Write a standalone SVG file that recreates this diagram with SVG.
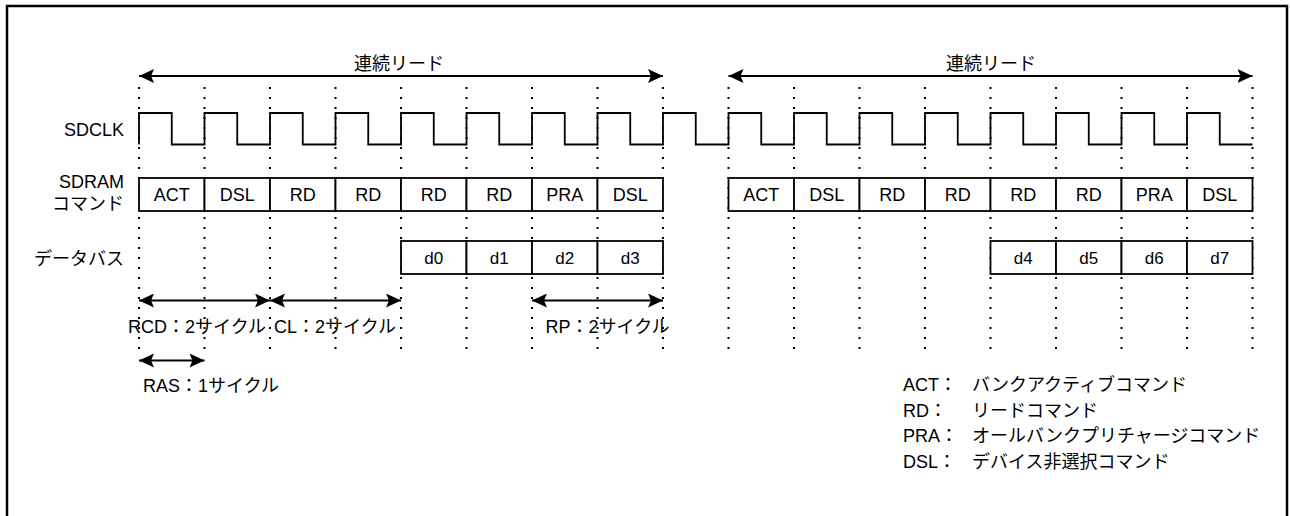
<svg xmlns="http://www.w3.org/2000/svg" width="1290" height="516" viewBox="0 0 1290 516">
<defs>
<marker id="ah" viewBox="0 0 15 14" markerUnits="userSpaceOnUse" markerWidth="15" markerHeight="14" refX="15" refY="7" orient="auto-start-reverse">
<path d="M0,0 L15,7 L0,14 L3,7 z" fill="#000"/>
</marker>
<style>
text{font-family:"Liberation Sans","Noto Sans CJK JP",sans-serif;font-size:18px;fill:#000}
.c{text-anchor:middle}
.e{text-anchor:end}
.d{font-size:17px}
.cell{fill:#fff;stroke:#000;stroke-width:1.8}
.grid{stroke:#000;stroke-width:2;stroke-dasharray:2 8;fill:none}
.sig{stroke:#000;stroke-width:1.8;fill:none}
.arr{stroke:#000;stroke-width:1.8;fill:none;marker-start:url(#ah);marker-end:url(#ah)}
</style>
</defs>
<rect x="0" y="0" width="1290" height="516" fill="#fff"/>
<rect id="frame" x="7" y="6" width="1280" height="530" fill="none" stroke="#000" stroke-width="2.5"/>

<g id="grid" class="grid">
<path d="M139,87V350M204.5,87V350M270,87V350M335.5,87V350M401,87V350M466.5,87V350M532,87V350M597.5,87V350M663,87V350M728.5,87V350M794,87V350M859.5,87V350M925,87V350M990.5,87V350M1056,87V350M1121.5,87V350M1187,87V350M1252.5,87V350"/>
</g>

<g id="labels">
<text id="lbl-sdclk" class="e" x="124" y="135.5">SDCLK</text>
<text id="lbl-cmd" class="e" x="124" y="187.5">SDRAM<tspan x="124" y="210">コマンド</tspan></text>
<text id="lbl-bus" class="e" x="124" y="265">データバス</text>
</g>

<g id="sdclk">
<path class="sig" d="M139,144.5V113H171.75V144.5H204.5V113H237.25V144.5H270V113H302.75V144.5H335.5V113H368.25V144.5H401V113H433.75V144.5H466.5V113H499.25V144.5H532V113H564.75V144.5H597.5V113H630.25V144.5H663V113H695.75V144.5H728.5V113H761.25V144.5H794V113H826.75V144.5H859.5V113H892.25V144.5H925V113H957.75V144.5H990.5V113H1023.25V144.5H1056V113H1088.75V144.5H1121.5V113H1154.25V144.5H1187V113H1219.75V144.5H1252.5"/>
</g>

<g id="cmd1">
<g id="c1"><rect class="cell" x="139" y="178" width="65.5" height="33"/><text class="c" x="171.75" y="201">ACT</text></g>
<g id="c2"><rect class="cell" x="204.5" y="178" width="65.5" height="33"/><text class="c" x="237.25" y="201">DSL</text></g>
<g id="c3"><rect class="cell" x="270" y="178" width="65.5" height="33"/><text class="c" x="302.75" y="201">RD</text></g>
<g id="c4"><rect class="cell" x="335.5" y="178" width="65.5" height="33"/><text class="c" x="368.25" y="201">RD</text></g>
<g id="c5"><rect class="cell" x="401" y="178" width="65.5" height="33"/><text class="c" x="433.75" y="201">RD</text></g>
<g id="c6"><rect class="cell" x="466.5" y="178" width="65.5" height="33"/><text class="c" x="499.25" y="201">RD</text></g>
<g id="c7"><rect class="cell" x="532" y="178" width="65.5" height="33"/><text class="c" x="564.75" y="201">PRA</text></g>
<g id="c8"><rect class="cell" x="597.5" y="178" width="65.5" height="33"/><text class="c" x="630.25" y="201">DSL</text></g>
</g>
<g id="cmd2">
<g id="c9"><rect class="cell" x="728.5" y="178" width="65.5" height="33"/><text class="c" x="761.25" y="201">ACT</text></g>
<g id="c10"><rect class="cell" x="794" y="178" width="65.5" height="33"/><text class="c" x="826.75" y="201">DSL</text></g>
<g id="c11"><rect class="cell" x="859.5" y="178" width="65.5" height="33"/><text class="c" x="892.25" y="201">RD</text></g>
<g id="c12"><rect class="cell" x="925" y="178" width="65.5" height="33"/><text class="c" x="957.75" y="201">RD</text></g>
<g id="c13"><rect class="cell" x="990.5" y="178" width="65.5" height="33"/><text class="c" x="1023.25" y="201">RD</text></g>
<g id="c14"><rect class="cell" x="1056" y="178" width="65.5" height="33"/><text class="c" x="1088.75" y="201">RD</text></g>
<g id="c15"><rect class="cell" x="1121.5" y="178" width="65.5" height="33"/><text class="c" x="1154.25" y="201">PRA</text></g>
<g id="c16"><rect class="cell" x="1187" y="178" width="65.5" height="33"/><text class="c" x="1219.75" y="201">DSL</text></g>
</g>

<g id="data1">
<g id="d0"><rect class="cell" x="401" y="241" width="65.5" height="33"/><text class="c d" x="433.75" y="264">d0</text></g>
<g id="d1"><rect class="cell" x="466.5" y="241" width="65.5" height="33"/><text class="c d" x="499.25" y="264">d1</text></g>
<g id="d2"><rect class="cell" x="532" y="241" width="65.5" height="33"/><text class="c d" x="564.75" y="264">d2</text></g>
<g id="d3"><rect class="cell" x="597.5" y="241" width="65.5" height="33"/><text class="c d" x="630.25" y="264">d3</text></g>
</g>
<g id="data2">
<g id="d4"><rect class="cell" x="990.5" y="241" width="65.5" height="33"/><text class="c d" x="1023.25" y="264">d4</text></g>
<g id="d5"><rect class="cell" x="1056" y="241" width="65.5" height="33"/><text class="c d" x="1088.75" y="264">d5</text></g>
<g id="d6"><rect class="cell" x="1121.5" y="241" width="65.5" height="33"/><text class="c d" x="1154.25" y="264">d6</text></g>
<g id="d7"><rect class="cell" x="1187" y="241" width="65.5" height="33"/><text class="c d" x="1219.75" y="264">d7</text></g>
</g>

<g id="connectors">
<line class="arr" x1="139" y1="76" x2="663" y2="76"/>
<line class="arr" x1="728.5" y1="76" x2="1252.5" y2="76"/>
<line class="arr" x1="139" y1="300.5" x2="270" y2="300.5"/>
<line class="arr" x1="270" y1="300.5" x2="401" y2="300.5"/>
<line class="arr" x1="532" y1="300.5" x2="663" y2="300.5"/>
<line class="arr" x1="139" y1="360.5" x2="204.5" y2="360.5"/>
</g>

<g id="annotations">
<text class="c" x="399" y="70">連続リード</text>
<text class="c" x="991" y="70">連続リード</text>
<text x="128" y="332.5">RCD：2サイクル</text>
<text x="274" y="332.5">CL：2サイクル</text>
<text x="545.5" y="332.5">RP：2サイクル</text>
<text x="143" y="392">RAS：1サイクル</text>
</g>

<g id="legend">
<text x="903" y="391">ACT：</text><text x="972" y="391">バンクアクティブコマンド</text>
<text x="903" y="416.5">RD：</text><text x="972" y="416.5">リードコマンド</text>
<text x="903" y="442">PRA：</text><text x="972" y="442">オールバンクプリチャージコマンド</text>
<text x="903" y="467.5">DSL：</text><text x="972" y="467.5">デバイス非選択コマンド</text>
</g>
</svg>
